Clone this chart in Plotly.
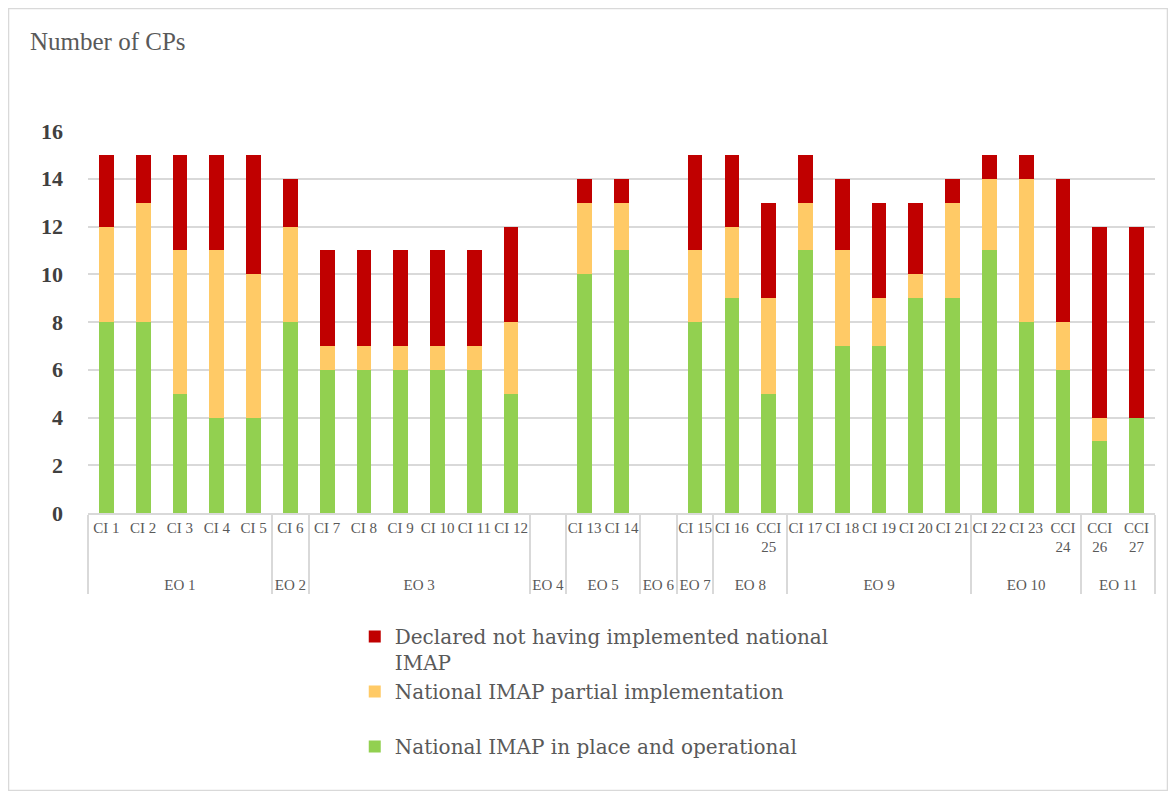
import plotly.graph_objects as go

eo_groups = ["EO 1"]*5 + ["EO 2"] + ["EO 3"]*6 + ["EO 4"] + ["EO 5"]*2 + ["EO 6"] + ["EO 7"] + ["EO 8"]*2 + ["EO 9"]*5 + ["EO 10"]*3 + ["EO 11"]*2
ci_labels = ["CI 1", "CI 2", "CI 3", "CI 4", "CI 5", "CI 6", "CI 7", "CI 8", "CI 9", "CI 10", "CI 11", "CI 12",
             " ", "CI 13", "CI 14", "  ", "CI 15", "CI 16", "CCI<br>25<br>&nbsp;", "CI 17", "CI 18", "CI 19", "CI 20", "CI 21",
             "CI 22", "CI 23", "CCI<br>24<br>&nbsp;", "CCI<br>26<br>&nbsp;", "CCI<br>27<br>&nbsp;"]
operational = [8, 8, 5, 4, 4, 8, 6, 6, 6, 6, 6, 5, None, 10, 11, None, 8, 9, 5, 11, 7, 7, 9, 9, 11, 8, 6, 3, 4]
partial = [4, 5, 6, 7, 6, 4, 1, 1, 1, 1, 1, 3, None, 3, 2, None, 3, 3, 4, 2, 4, 2, 1, 4, 3, 6, 2, 1, 0]
not_impl = [3, 2, 4, 4, 5, 2, 4, 4, 4, 4, 4, 4, None, 1, 1, None, 4, 3, 4, 2, 3, 4, 3, 1, 1, 1, 6, 8, 8]

names = ["National IMAP in place and operational",
         "National IMAP partial implementation<br>&nbsp;",
         "Declared not having implemented national<br>IMAP"]
colors = ["#92D050", "#FFCA66", "#C00000"]

x = [eo_groups, ci_labels]
fig = go.Figure()
for vals, nm, col in zip([operational, partial, not_impl], names, colors):
    fig.add_trace(go.Bar(x=x, y=vals, name=nm, marker=dict(color=col, line=dict(width=0))))

font_family = "Liberation Serif, DejaVu Serif, serif"
legend_family = "DejaVu Serif, Liberation Serif, serif"
fig.update_layout(
    width=1160, height=783,
    barmode="stack", bargap=0.6,
    paper_bgcolor="white", plot_bgcolor="white",
    margin=dict(l=80, r=13, t=123, b=278, autoexpand=False),
    font=dict(family=font_family, color="#595959", size=15),
    showlegend=True,
    legend=dict(orientation="v", x=0.25, y=-0.272, xanchor="left", yanchor="top",
                traceorder="reversed", valign="top",
                font=dict(size=20, color="#595959", family=legend_family),
                itemwidth=30, tracegroupgap=0),
    xaxis=dict(type="multicategory", showgrid=False, showline=True, linecolor="#d9d9d9",
               linewidth=1.5, ticks="", tickangle=0, automargin=False,
               tickfont=dict(size=15, color="#595959"),
               showdividers=True, dividercolor="#d9d9d9", dividerwidth=1.5),
    yaxis=dict(range=[0, 16], dtick=2, showgrid=True, gridcolor="#d9d9d9", gridwidth=1.5,
               zeroline=False, showline=False, ticks="", automargin=False, ticklabelstandoff=24,
               tickfont=dict(size=22, color="#404040", family=font_family, weight="bold")),
)
fig.add_annotation(text="Number of CPs", xref="paper", yref="paper", x=-0.0562, y=1.233,
                   xanchor="left", yanchor="middle", showarrow=False,
                   font=dict(size=25, color="#595959", family=font_family))
fig.add_shape(type="rect", xref="paper", yref="paper", x0=-0.0745, x1=1.0117, y0=-0.7264, y1=1.3207,
              line=dict(color="#d9d9d9", width=1.5), fillcolor="rgba(0,0,0,0)")
fig.write_html("out.html")
